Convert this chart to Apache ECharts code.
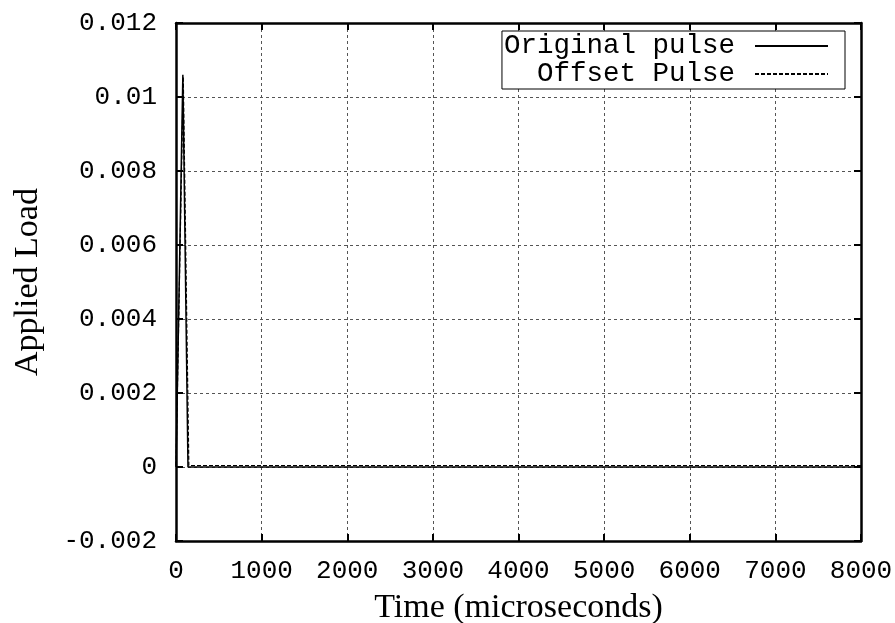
<!DOCTYPE html>
<html>
<head>
<meta charset="utf-8">
<script src="https://cdn.jsdelivr.net/npm/echarts@6/dist/echarts.min.js"></script>
<style>
  html, body { margin: 0; padding: 0; background: #fff; }
  #chart { width: 895px; height: 623px; }
</style>
</head>
<body>
<div id="chart"></div>
<script>
// Applied load pulses over time
const seriesNames = ['Original pulse', 'Offset Pulse'];
const originalTime = [0, 80, 140, 8000];
const originalLoad = [0, 0.0106, 0, 0];
const offsetTime = [0, 85, 150, 8000];
const offsetLoad = [0.00004, 0.01055, 0.00004, 0.00004];
const yTickLabels = ['-0.002', '0', '0.002', '0.004', '0.006', '0.008', '0.01', '0.012'];
const xTickLabels = ['0', '1000', '2000', '3000', '4000', '5000', '6000', '7000', '8000'];

const pairs = (xs, ys) => xs.map((x, i) => [x, ys[i]]);
const monoFont = 'Liberation Mono';
const serifFont = 'Liberation Serif';

const chart = echarts.init(document.getElementById('chart'));

const gridLine = { show: true, lineStyle: { color: '#555', width: 1, type: [3, 3] } };
const frame = { show: true, onZero: false, lineStyle: { color: '#000', width: 2.5 } };
const innerTick = { show: true, inside: true, length: 7, lineStyle: { color: '#000', width: 2 } };

chart.setOption({
  animation: false,
  backgroundColor: '#fff',
  grid: { left: 176, right: 34, top: 23, bottom: 82, outerBoundsMode: 'none', containLabel: false },
  legend: {
    orient: 'vertical',
    align: 'right',
    right: 50,
    top: 31,
    itemGap: 0,
    itemWidth: 73,
    itemHeight: 14,
    padding: [1, 16, 1, 2],
    borderColor: '#000',
    borderWidth: 1,
    backgroundColor: '#fff',
    data: seriesNames,
    itemStyle: { opacity: 0, borderWidth: 0 },
    textStyle: { fontFamily: monoFont, fontSize: 27.5, color: '#000', lineHeight: 26, padding: [0, 15, 0, 0] }
  },
  xAxis: [{
    type: 'value',
    min: 0, max: 8000, interval: 1000,
    name: 'Time (microseconds)',
    nameLocation: 'middle',
    nameGap: 50,
    nameTextStyle: { fontFamily: serifFont, fontSize: 34, color: '#000' },
    axisLine: frame,
    axisTick: innerTick,
    splitLine: gridLine,
    axisLabel: {
      margin: 17,
      fontFamily: monoFont, fontSize: 26, color: '#000',
      formatter: (v) => xTickLabels[Math.round(v / 1000)]
    }
  }, {
    type: 'value', position: 'top',
    min: 0, max: 8000, interval: 1000,
    axisLine: frame, axisTick: innerTick,
    axisLabel: { show: false }, splitLine: { show: false }
  }],
  yAxis: [{
    type: 'value',
    min: -0.002, max: 0.012, interval: 0.002,
    name: 'Applied Load',
    nameLocation: 'middle',
    nameGap: 131,
    nameTextStyle: { fontFamily: serifFont, fontSize: 34, color: '#000' },
    axisLine: frame,
    axisTick: innerTick,
    splitLine: gridLine,
    axisLabel: {
      margin: 19,
      fontFamily: monoFont, fontSize: 26, color: '#000',
      formatter: (v) => yTickLabels[Math.round((v + 0.002) / 0.002)]
    }
  }, {
    type: 'value', position: 'right',
    min: -0.002, max: 0.012, interval: 0.002,
    axisLine: frame, axisTick: innerTick,
    axisLabel: { show: false }, splitLine: { show: false }
  }],
  series: [{
    name: seriesNames[0],
    type: 'line',
    data: pairs(originalTime, originalLoad),
    showSymbol: false,
    symbol: 'none',
    color: '#000',
    lineStyle: { color: '#000', width: 1.5, type: 'solid' }
  }, {
    name: seriesNames[1],
    type: 'line',
    data: pairs(offsetTime, offsetLoad),
    showSymbol: false,
    symbol: 'none',
    color: '#000',
    lineStyle: { color: '#000', width: 1.2, type: [4, 2] }
  }]
});
</script>
</body>
</html>
